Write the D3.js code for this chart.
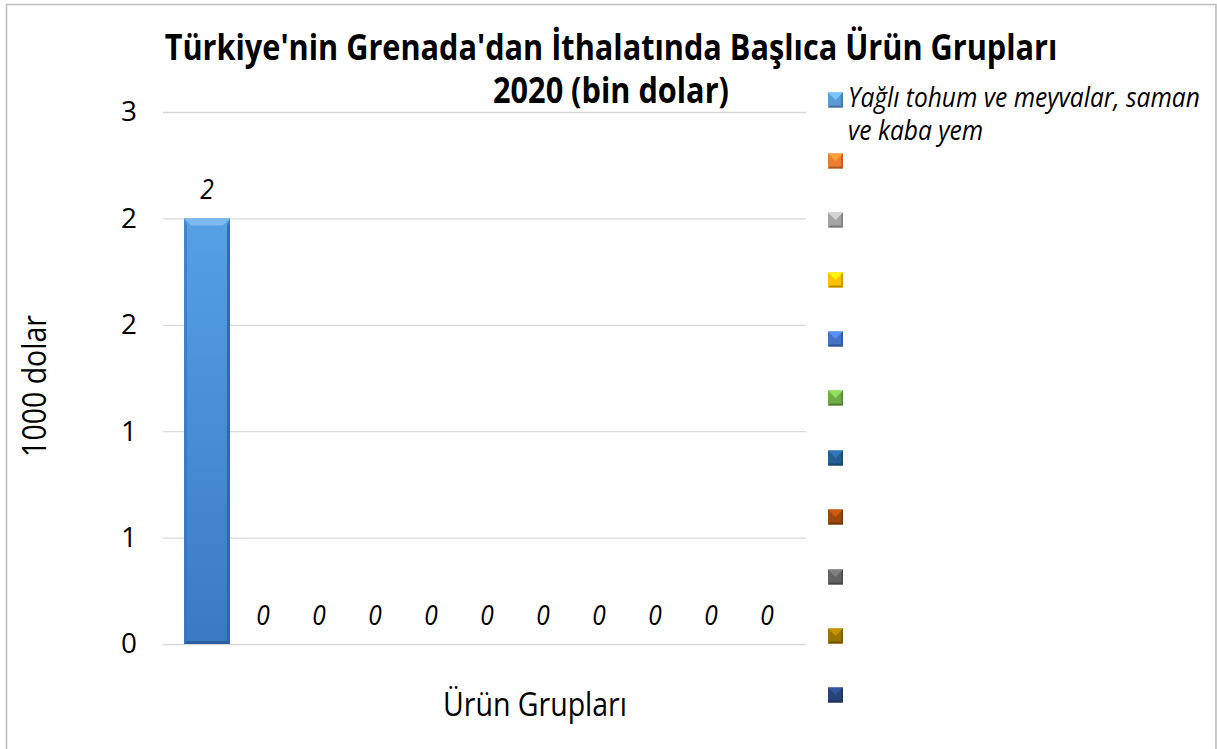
<!DOCTYPE html>
<html>
<head>
<meta charset="utf-8">
<script src="https://cdn.jsdelivr.net/npm/d3@7"></script>
<style>
  body { margin: 0; background: #fff; }
  text { font-family: "Open Sans", Lato, sans-serif; fill: #000; }
  .grid line { stroke: #d9d9d9; stroke-width: 1.3; }
</style>
</head>
<body>
<div id="chart"></div>
<script>
// series (one category, eleven product groups)
const seriesNames = ["Yağlı tohum ve meyvalar, saman ve kaba yem", "", "", "", "", "", "", "", "", "", ""];
const values = [2, 0, 0, 0, 0, 0, 0, 0, 0, 0, 0];
const seriesColors = ["#5b9bd5", "#ed7d31", "#a5a5a5", "#ffc000", "#4472c4", "#70ad47",
                      "#255e91", "#9e480e", "#636363", "#997300", "#264478"];
const yTicks = [0, 0.5, 1, 1.5, 2, 2.5];
const titleLines = ["Türkiye'nin Grenada'dan İthalatında Başlıca Ürün Grupları", "2020 (bin dolar)"];
const yTitle = "1000 dolar";
const xTitle = "Ürün Grupları";

const W = 1217, H = 749;
const plot = {left: 163, right: 806, top: 112, bottom: 644};
const squeeze = 0.88; // narrows the fallback font toward the original's proportions

const svg = d3.select("#chart").append("svg")
  .attr("width", W).attr("height", H);

// font size that makes a string about `target` px wide once squeezed
function fitSize(str, target, weight, style) {
  const t = svg.append("text").attr("font-size", 100)
    .attr("font-weight", weight || "normal").attr("font-style", style || "normal").text(str);
  const w = t.node().getComputedTextLength();
  t.remove();
  return 100 * target / (w * squeeze);
}

// text narrowed horizontally around its anchor point
function addText(parent, x, y, str, size, opts = {}) {
  return parent.append("text")
    .attr("transform", `translate(${x},${y})${opts.rotate ? ` rotate(${opts.rotate})` : ""} scale(${squeeze},1)`)
    .attr("text-anchor", opts.anchor || "start")
    .attr("font-size", size)
    .attr("font-weight", opts.weight || "normal")
    .attr("font-style", opts.style || "normal")
    .text(str);
}

const titleSize = fitSize(titleLines[0], 893, "bold");
const axisTitleSize = fitSize(xTitle, 184);
const legendSize = fitSize("Yağlı tohum ve meyvalar, saman", 352, "normal", "italic");
const tickSize = axisTitleSize * 0.86;
const labelSize = axisTitleSize * 0.86;

// chart frame
svg.append("path")
  .attr("d", `M6.5,${H + 2} V4.5 H1216 V${H + 2}`)
  .attr("fill", "none").attr("stroke", "#bfbfbf").attr("stroke-width", 1.6);

const x = d3.scaleBand()
  .domain(d3.range(values.length))
  .range([179, 795])
  .paddingInner(0.18)
  .paddingOuter(0.09);

const y = d3.scaleLinear()
  .domain([0, 2.5])
  .range([plot.bottom, plot.top]);

// gridlines + tick labels
const yAxis = svg.append("g")
  .attr("class", "grid")
  .attr("transform", `translate(${plot.left},0)`)
  .call(d3.axisLeft(y)
    .tickValues(yTicks)
    .tickSize(-(plot.right - plot.left))
    .tickPadding(26)
    .tickFormat(d => Math.round(d)));
yAxis.select(".domain").remove();
yAxis.attr("font-size", null).attr("font-family", null);
yAxis.selectAll("text")
  .attr("font-size", tickSize)
  .attr("fill", "#000");

// bar gradient
const defs = svg.append("defs");
const grad = defs.append("linearGradient")
  .attr("id", "barGrad").attr("x1", 0).attr("y1", 0).attr("x2", 0).attr("y2", 1);
grad.append("stop").attr("offset", "0%").attr("stop-color", "#56a0e6");
grad.append("stop").attr("offset", "100%").attr("stop-color", "#3a7ac4");

const bevel = 7;
const bars = svg.append("g").selectAll("g")
  .data(values.map((v, i) => ({v, i})).filter(d => d.v > 0))
  .join("g");

bars.append("rect")
  .attr("x", d => x(d.i))
  .attr("y", d => y(d.v))
  .attr("width", x.bandwidth())
  .attr("height", d => y(0) - y(d.v))
  .attr("fill", "url(#barGrad)");
// left / right edge shading
bars.append("path")
  .attr("d", d => {
    const x0 = x(d.i), t = y(d.v), b = y(0);
    return `M${x0},${t} L${x0 + 3},${t + bevel} L${x0 + 3},${b - 3} L${x0},${b} Z`;
  })
  .attr("fill", "#3273bb").attr("opacity", 0.6);
bars.append("path")
  .attr("d", d => {
    const x1 = x(d.i) + x.bandwidth(), t = y(d.v), b = y(0);
    return `M${x1},${t} L${x1 - 3},${t + bevel} L${x1 - 3},${b - 3} L${x1},${b} Z`;
  })
  .attr("fill", "#2a62a3").attr("opacity", 0.8);
// top bevel
bars.append("path")
  .attr("d", d => {
    const x0 = x(d.i), x1 = x0 + x.bandwidth(), t = y(d.v);
    return `M${x0},${t} L${x1},${t} L${x1 - bevel},${t + bevel} L${x0 + bevel},${t + bevel} Z`;
  })
  .attr("fill", "#7cbaf0");
// bottom edge
bars.append("path")
  .attr("d", d => {
    const x0 = x(d.i), x1 = x0 + x.bandwidth(), b = y(0);
    return `M${x0},${b} L${x1},${b} L${x1 - 3},${b - 3} L${x0 + 3},${b - 3} Z`;
  })
  .attr("fill", "#2b5f9e");

// data labels
const labels = svg.append("g");
values.forEach((v, i) => {
  addText(labels, x(i) + x.bandwidth() / 2, y(v) - 19, v, labelSize, {anchor: "middle", style: "italic"});
});

// title
titleLines.forEach((t, i) => {
  addText(svg, 611, i === 0 ? 60 : 103, t, titleSize, {anchor: "middle", weight: "bold"});
});

// axis titles
addText(svg, 46, 386, yTitle, axisTitleSize, {anchor: "middle", rotate: -90});
addText(svg, 535, 716, xTitle, axisTitleSize, {anchor: "middle"});

// legend
const legendY = [100, 161, 220, 280, 339, 398, 458, 517, 577, 636, 695];
const sq = 15;
const legend = svg.append("g").selectAll("g")
  .data(seriesNames.map((n, i) => ({n, i})))
  .join("g")
  .attr("transform", d => `translate(828,${legendY[d.i] - sq / 2})`);

legend.append("rect")
  .attr("width", sq).attr("height", sq)
  .attr("fill", d => seriesColors[d.i]);
legend.append("path")
  .attr("d", `M0,0 L${sq},0 L${sq / 2},${sq / 2} Z`)
  .attr("fill", d => d3.color(seriesColors[d.i]).brighter(0.7));
legend.append("path")
  .attr("d", `M0,${sq} L${sq},${sq} L${sq - 2},${sq - 2} L2,${sq - 2} Z`)
  .attr("fill", d => d3.color(seriesColors[d.i]).darker(0.9));
legend.append("path")
  .attr("d", `M${sq},0 L${sq},${sq} L${sq - 2},${sq - 2} L${sq - 2},2 Z`)
  .attr("fill", d => d3.color(seriesColors[d.i]).darker(0.6));

// legend text with wrapping
legend.filter(d => d.n).each(function(d) {
  const g = d3.select(this);
  const words = d.n.split(" ");
  const maxW = 360;
  let line = [], lines = [];
  const probe = g.append("text").attr("font-size", legendSize).attr("font-style", "italic");
  words.forEach(w => {
    line.push(w);
    probe.text(line.join(" "));
    if (probe.node().getComputedTextLength() * squeeze > maxW && line.length > 1) {
      line.pop();
      lines.push(line.join(" "));
      line = [w];
    }
  });
  lines.push(line.join(" "));
  probe.remove();
  lines.forEach((l, k) => {
    addText(g, 20, sq / 2 + 7 + k * 33, l, legendSize, {style: "italic"});
  });
});
</script>
</body>
</html>
